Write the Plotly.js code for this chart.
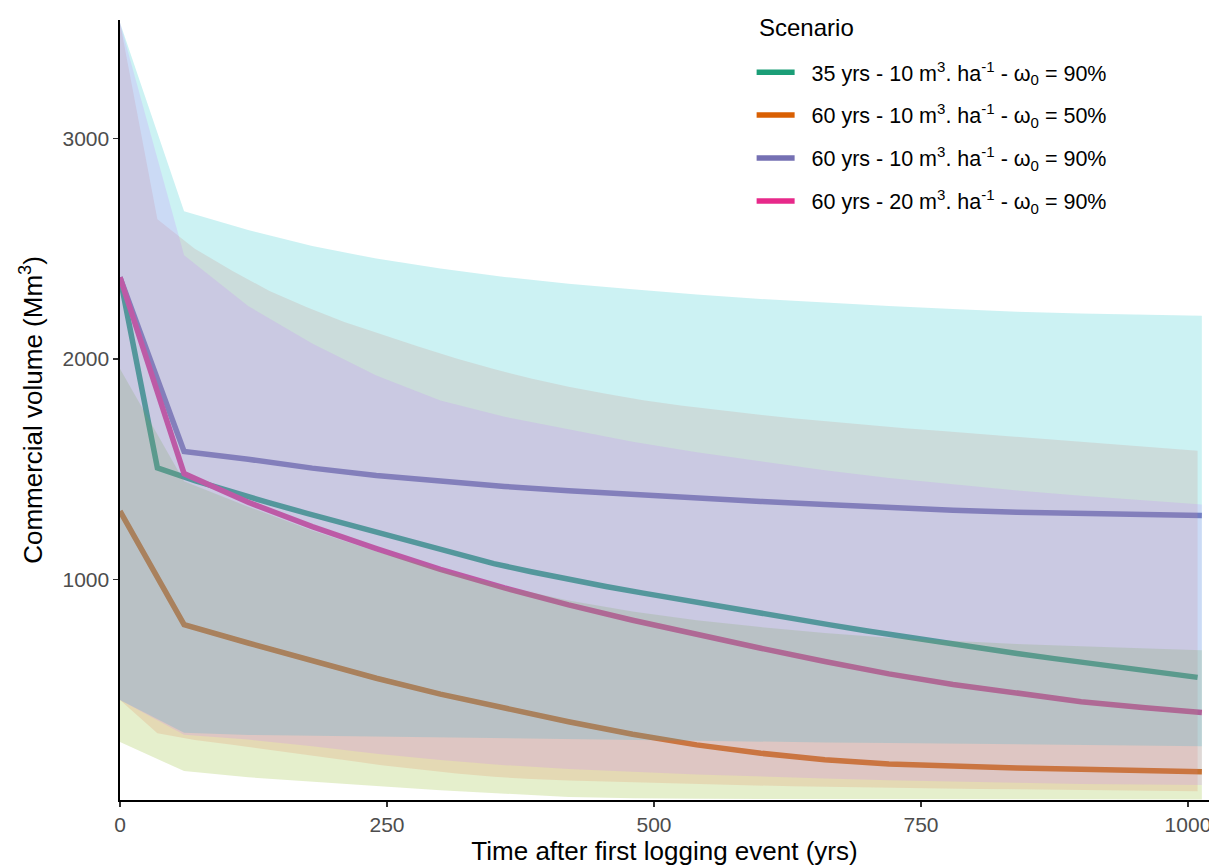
<!DOCTYPE html>
<html>
<head>
<meta charset="utf-8">
<script src="https://cdn.plot.ly/plotly-3.0.1.min.js"></script>
<style>html,body{margin:0;padding:0;background:#fff;}#chart{width:1209px;height:866px;}</style>
</head>
<body>
<div id="chart"></div>
<script>
// ---- time grids (years) ----
const t35 = [0,35,70,105,140,175,210,245,280,315,350,385,420,455,490,525,560,595,630,665,700,735,770,805,840,875,910,945,980,1009];
const t60 = [0,60,120,180,240,300,360,420,480,540,600,660,720,780,840,900,960,1013];

// ---- scenario names ----
const scenarioNames = [
  "35 yrs - 10 m<sup>3</sup>. ha<sup>-1</sup> - ω<sub>0</sub> = 90%",
  "60 yrs - 10 m<sup>3</sup>. ha<sup>-1</sup> - ω<sub>0</sub> = 50%",
  "60 yrs - 10 m<sup>3</sup>. ha<sup>-1</sup> - ω<sub>0</sub> = 90%",
  "60 yrs - 20 m<sup>3</sup>. ha<sup>-1</sup> - ω<sub>0</sub> = 90%"
];
const legendTitle = "Scenario";

// ---- mean commercial volume (Mm3) ----
const s1Mean = [2370,1506,1448,1395,1347,1300,1254,1208,1160,1115,1072,1035,1000,968,938,908,878,850,822,794,766,739,713,688,664,641,619,598,578,556];
const s2Mean = [1310,795,712,632,552,480,415,355,298,250,212,182,163,152,145,139,133,128];
const s3Mean = [2370,1580,1545,1505,1472,1445,1422,1402,1384,1368,1354,1340,1326,1314,1305,1298,1293,1290];
const s4Mean = [2370,1480,1350,1240,1140,1046,962,885,815,750,688,628,572,524,482,446,418,397];

// ---- uncertainty envelopes (Mm3) ----
const s1Upper = [3525,2633,2500,2400,2308,2234,2168,2110,2055,2002,1954,1911,1874,1842,1813,1789,1768,1749,1731,1715,1700,1686,1673,1660,1648,1635,1621,1607,1594,1584];
const s1Lower = [453,303,272,250,228,205,181,158,138,120,105,95,88,82,78,74,70,66,62,59,56,54,52,50,48,46,44,43,41,40];
const s2Upper = [1955,1445,1330,1222,1127,1045,968,905,855,815,784,757,736,720,707,697,688,679];
const s2Lower = [263,131,103,82,63,44,28,14,8,6,5,4,4,3,3,3,2,2];
const s3Upper = [3525,2670,2585,2512,2455,2410,2372,2341,2316,2292,2272,2255,2240,2226,2214,2206,2200,2196];
const s3Lower = [453,305,295,292,290,286,282,278,273,269,265,261,258,255,252,249,246,244];
const s4Upper = [3525,2470,2240,2070,1925,1812,1738,1680,1625,1577,1535,1495,1460,1430,1403,1380,1358,1340];
const s4Lower = [453,296,274,244,210,181,158,141,128,116,106,97,89,83,78,73,70,68];

// ---- styles ----
const lineColors = ["#1B9E77","#D95F02","#7570B3","#E7298A"];
const ribbonColors = ["rgba(248,118,109,0.2)","rgba(124,174,0,0.2)","rgba(0,191,196,0.2)","rgba(199,124,255,0.2)"];

const series = [
  {x: t35, mean: s1Mean, lo: s1Lower, hi: s1Upper},
  {x: t60, mean: s2Mean, lo: s2Lower, hi: s2Upper},
  {x: t60, mean: s3Mean, lo: s3Lower, hi: s3Upper},
  {x: t60, mean: s4Mean, lo: s4Lower, hi: s4Upper}
];

const traces = [];
// lines first (drawn beneath the ribbons)
series.forEach((s, i) => {
  traces.push({
    type: "scatter", mode: "lines", x: s.x, y: s.mean,
    name: "\u00a0\u00a0" + scenarioNames[i], legendgroup: "g" + i,
    line: {color: lineColors[i], width: 5.5},
    hoverinfo: "skip"
  });
});
// ribbons on top
series.forEach((s, i) => {
  const xs = s.x.concat(s.x.slice().reverse());
  const ys = s.hi.concat(s.lo.slice().reverse());
  traces.push({
    type: "scatter", mode: "lines", x: xs, y: ys,
    fill: "toself", fillcolor: ribbonColors[i],
    line: {width: 0, color: "rgba(0,0,0,0)"},
    showlegend: false, hoverinfo: "skip", legendgroup: "g" + i
  });
});

const FONT = "Liberation Sans, Arial, sans-serif";
const layout = {
  width: 1209, height: 866,
  margin: {l: 120, r: 0, t: 20, b: 66},
  paper_bgcolor: "#ffffff", plot_bgcolor: "#ffffff",
  font: {family: FONT, color: "#000"},
  showlegend: true,
  xaxis: {
    range: [0, 1019.7], tickvals: [0,250,500,750,1000], ticktext: ["0","250","500","750","1000"],
    ticks: "outside", ticklen: 5, tickwidth: 1.2, tickcolor: "#333",
    showline: true, linecolor: "#000", linewidth: 1.6,
    showgrid: false, zeroline: false, ticklabeloverflow: "allow",
    tickfont: {family: FONT, size: 21, color: "#4D4D4D"},
    title: {text: "Time after first logging event (yrs)", font: {family: FONT, size: 26, color: "#000"}, standoff: 11},
    automargin: false
  },
  yaxis: {
    range: [0, 3537], tickvals: [1000,2000,3000], ticktext: ["1000","2000","3000"],
    ticks: "outside", ticklen: 5, tickwidth: 1.2, tickcolor: "#333",
    showline: true, linecolor: "#000", linewidth: 1.6,
    showgrid: false, zeroline: false, ticklabeloverflow: "allow",
    tickfont: {family: FONT, size: 21, color: "#4D4D4D"},
    title: {text: "Commercial volume (Mm<sup>3</sup>)", font: {family: FONT, size: 26, color: "#000"}, standoff: 12},
    automargin: false
  },
  legend: {
    x: 0.58, y: 0.9594, xanchor: "left", yanchor: "top",
    bgcolor: "rgba(255,255,255,0)", borderwidth: 0,
    font: {family: FONT, size: 21.5, color: "#000"},
    tracegroupgap: 12, itemwidth: 38
  },
  annotations: [{
    text: legendTitle, xref: "paper", yref: "paper",
    x: (757 - 120) / 1089, y: 1.0, xanchor: "left", yanchor: "middle",
    yshift: -7, showarrow: false,
    font: {family: FONT, size: 24, color: "#000"}
  }]
};

Plotly.newPlot("chart", traces, layout, {displayModeBar: false, staticPlot: true});
</script>
</body>
</html>
